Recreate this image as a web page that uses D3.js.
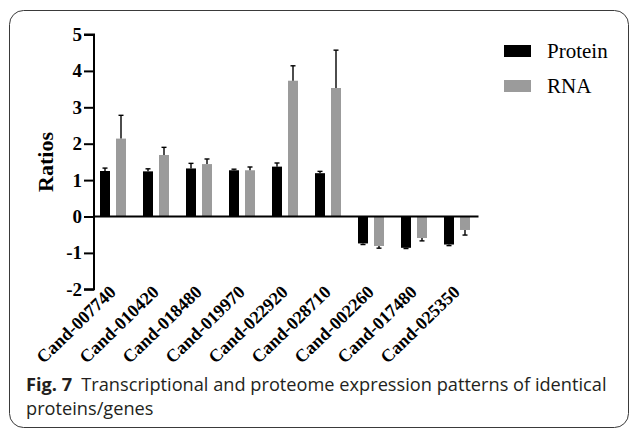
<!DOCTYPE html>
<html>
<head>
<meta charset="utf-8">
<script src="https://cdn.jsdelivr.net/npm/d3@7.9.0/dist/d3.min.js"></script>
<style>
  html, body { margin: 0; padding: 0; background: #fff; }
  svg { display: block; }
</style>
</head>
<body>
<svg id="chart" width="630" height="432"></svg>
<script>
// data
const genes = ['Cand-007740', 'Cand-010420', 'Cand-018480', 'Cand-019970', 'Cand-022920',
  'Cand-028710', 'Cand-002260', 'Cand-017480', 'Cand-025350'];
const series = ['Protein', 'RNA'];
const proteinValues = [1.25, 1.24, 1.32, 1.27, 1.37, 1.19, -0.74, -0.86, -0.77];
const proteinErrors = [0.08, 0.07, 0.14, 0.03, 0.10, 0.05, 0.03, 0.02, 0.03];
const rnaValues = [2.14, 1.69, 1.44, 1.27, 3.73, 3.53, -0.81, -0.59, -0.37];
const rnaErrors = [0.64, 0.21, 0.14, 0.09, 0.41, 1.04, 0.06, 0.08, 0.14];
const yTicks = [-2, -1, 0, 1, 2, 3, 4, 5];
const colors = { Protein: '#000000', RNA: '#9b9b9b' };

const svg = d3.select('#chart');

// card border
svg.append('rect')
  .attr('x', 9.5).attr('y', 10.5)
  .attr('width', 619).attr('height', 417)
  .attr('rx', 14)
  .attr('fill', 'none')
  .attr('stroke', '#3a3a3a')
  .attr('stroke-width', 1);

const axisX = 94;
let y = d3.scaleLinear().domain([-2, 5]).range([289.3, 34.5]);
let x = d3.scaleBand().domain(genes).range([91.5, 478.5]);
let xSub = d3.scaleBand().domain(series).range([8.5, 34.5]).paddingInner(0.375);

// build rows per gene/series
const rows = [];
genes.forEach((g, i) => {
  rows.push({ gene: g, key: 'Protein', value: proteinValues[i], err: proteinErrors[i] });
  rows.push({ gene: g, key: 'RNA', value: rnaValues[i], err: rnaErrors[i] });
});

const plot = svg.append('g');

// bars
plot.selectAll('rect.bar')
  .data(rows)
  .join('rect')
    .attr('class', 'bar')
    .attr('x', d => x(d.gene) + xSub(d.key))
    .attr('width', xSub.bandwidth())
    .attr('y', d => Math.min(y(d.value), y(0)))
    .attr('height', d => Math.abs(y(d.value) - y(0)))
    .attr('fill', d => colors[d.key]);

// error bars (one-sided, away from zero)
const errG = plot.selectAll('g.err')
  .data(rows)
  .join('g')
    .attr('class', 'err')
    .attr('stroke', '#000')
    .attr('stroke-width', 1.4);
errG.append('line')
  .attr('x1', d => x(d.gene) + xSub(d.key) + xSub.bandwidth() / 2)
  .attr('x2', d => x(d.gene) + xSub(d.key) + xSub.bandwidth() / 2)
  .attr('y1', d => y(d.value))
  .attr('y2', d => y(d.value + Math.sign(d.value) * d.err));
errG.append('line')
  .attr('x1', d => x(d.gene) + xSub(d.key) + xSub.bandwidth() / 2 - 2.5)
  .attr('x2', d => x(d.gene) + xSub(d.key) + xSub.bandwidth() / 2 + 2.5)
  .attr('y1', d => y(d.value + Math.sign(d.value) * d.err))
  .attr('y2', d => y(d.value + Math.sign(d.value) * d.err));

// y axis
const yAxis = svg.append('g')
  .attr('transform', `translate(${axisX},0)`)
  .call(d3.axisLeft(y).tickValues(yTicks).tickSize(10).tickPadding(2)
    .tickFormat(d => d < 0 ? '-' + Math.abs(d) : d));
yAxis.select('.domain').attr('stroke-width', 2).attr('d', `M-10,${y(5)}H0V${y(-2)}H-10`);
yAxis.selectAll('.tick line').attr('stroke-width', 2);
yAxis.selectAll('.tick text')
  .attr('font-family', '"Liberation Serif", "Times New Roman", serif')
  .attr('font-weight', 'bold')
  .attr('font-size', 19)
  .attr('fill', '#000');

// x axis line at zero
svg.append('line')
  .attr('x1', axisX).attr('x2', x.range()[1])
  .attr('y1', y(0)).attr('y2', y(0))
  .attr('stroke', '#000').attr('stroke-width', 2);

// category labels below the plot
svg.append('g').selectAll('text')
  .data(genes)
  .join('text')
    .attr('transform', d => `translate(${x(d) + x.bandwidth() / 2 + 4},${y(-2) + 4}) rotate(-44)`)
    .attr('text-anchor', 'end')
    .attr('font-family', '"Liberation Serif", "Times New Roman", serif')
    .attr('font-weight', 'bold')
    .attr('font-size', 18)
    .text(d => d);

// y axis title
svg.append('text')
  .attr('transform', `translate(53,162) rotate(-90)`)
  .attr('text-anchor', 'middle')
  .attr('font-family', '"Liberation Serif", "Times New Roman", serif')
  .attr('font-weight', 'bold')
  .attr('font-size', 22)
  .text('Ratios');

// legend
const legend = svg.append('g');
series.forEach((s, i) => {
  legend.append('rect')
    .attr('x', 504).attr('y', 45 + i * 35)
    .attr('width', 27).attr('height', 12)
    .attr('fill', colors[s]);
  legend.append('text')
    .attr('x', 547).attr('y', 58 + i * 35)
    .attr('font-family', '"Liberation Serif", "Times New Roman", serif')
    .attr('font-size', 21)
    .text(s);
});

// caption
const cap = svg.append('g').attr('font-family', '"Open Sans", "Noto Sans", sans-serif')
  .attr('font-size', 18).attr('fill', '#231f20');
const line1 = cap.append('text').attr('x', 26).attr('y', 391.5);
line1.append('tspan').attr('font-weight', 'bold').text('Fig. 7');
line1.append('tspan').text('\u2002Transcriptional and proteome expression patterns of identical');
cap.append('text').attr('x', 26).attr('y', 415).text('proteins/genes');
// squeeze to the narrower figure font
const natural = line1.node().getComputedTextLength();
const sx = 581 / natural;
cap.attr('transform', `translate(26,0) scale(${sx},1) translate(-26,0)`);
</script>
</body>
</html>
